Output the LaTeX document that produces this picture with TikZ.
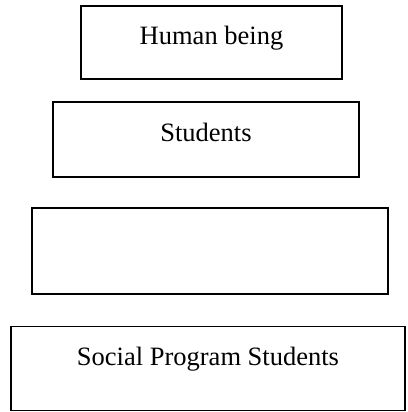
\documentclass[tikz,border=0pt]{standalone}
\usepackage{fontspec}
\setmainfont{Liberation Serif}
\begin{document}
\begin{tikzpicture}[x=1pt,y=-1pt,
  box/.style={draw=black, line width=1.8pt, rectangle, inner sep=0pt, outer sep=0pt},
  lbl/.style={anchor=base, inner sep=0pt, font=\fontsize{26.5}{30}\selectfont}]
\useasboundingbox (0,0) rectangle (407,412);
\node[box, minimum width=261pt, minimum height=73pt] (human) at (211.5,42.5) {};
\node[lbl] (humant) at (211.5,45) {Human being};
\node[box, minimum width=306pt, minimum height=75pt] (students) at (206,139.5) {};
\node[lbl] (studentst) at (206,141) {Students};
\node[box, minimum width=356pt, minimum height=86pt] (empty) at (210,251) {};
\node[box, minimum width=394pt, minimum height=84pt] (sps) at (208,368.5) {};
\node[lbl] (spst) at (208,365) {Social Program Students};
\end{tikzpicture}
\end{document}
